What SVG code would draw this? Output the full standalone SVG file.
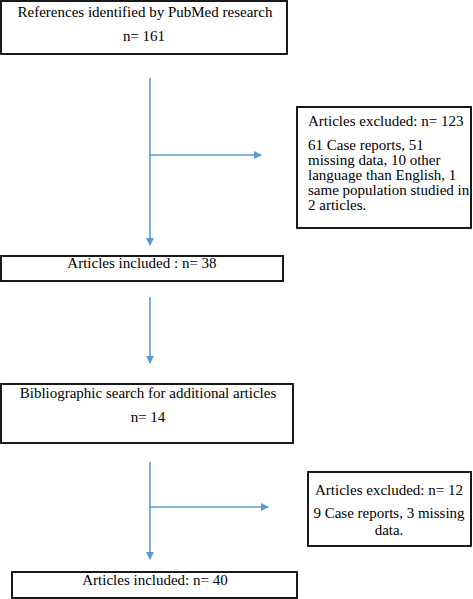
<svg xmlns="http://www.w3.org/2000/svg" width="473" height="599" viewBox="0 0 473 599">
<style>
.box{fill:#ffffff;stroke:#000000;stroke-width:1.8}
.t{font-family:"Liberation Serif","Times New Roman",serif;font-size:15px;fill:#000000}
.c{text-anchor:middle}
.conn{stroke:#5b9bd5;stroke-width:1.6;fill:none}
</style>
<defs>
<marker id="ah" markerWidth="8" markerHeight="8" refX="7" refY="4" orient="auto" markerUnits="userSpaceOnUse">
<path d="M0,0 L8,4 L0,8 Z" fill="#5b9bd5"/>
</marker>
</defs>
<rect width="473" height="599" fill="#ffffff"/>
<g id="connectors">
<line class="conn" x1="150" y1="78" x2="150" y2="245" marker-end="url(#ah)"/>
<line class="conn" x1="150" y1="155" x2="261" y2="155" marker-end="url(#ah)"/>
<line class="conn" x1="150" y1="297" x2="150" y2="363" marker-end="url(#ah)"/>
<line class="conn" x1="150" y1="462" x2="150" y2="559" marker-end="url(#ah)"/>
<line class="conn" x1="150" y1="507" x2="268" y2="507" marker-end="url(#ah)"/>
</g>
<g id="n1">
<rect class="box" x="1" y="1" width="286" height="53"/>
<text class="t c" x="145" y="17">References identified by PubMed research</text>
<text class="t c" x="144" y="41">n= 161</text>
</g>
<g id="n2">
<rect class="box" x="297" y="107" width="174" height="121"/>
<text class="t" x="308" y="126">Articles excluded: n= 123</text>
<text class="t" x="308" y="150">61 Case reports, 51</text>
<text class="t" x="308" y="165">missing data, 10 other</text>
<text class="t" x="308" y="180">language than English, 1</text>
<text class="t" x="308" y="195">same population studied in</text>
<text class="t" x="308" y="210">2 articles.</text>
</g>
<g id="n3">
<rect class="box" x="1" y="256" width="282" height="25"/>
<text class="t c" x="142" y="268">Articles included : n= 38</text>
</g>
<g id="n4">
<rect class="box" x="1" y="384" width="292" height="59"/>
<text class="t c" x="148" y="398">Bibliographic search for additional articles</text>
<text class="t c" x="148" y="422">n= 14</text>
</g>
<g id="n5">
<rect class="box" x="308" y="472" width="163" height="74"/>
<text class="t c" x="389" y="495">Articles excluded: n= 12</text>
<text class="t c" x="389" y="518">9 Case reports, 3 missing</text>
<text class="t c" x="389" y="535">data.</text>
</g>
<g id="n6">
<rect class="box" x="12" y="572" width="285" height="26"/>
<text class="t c" x="155" y="585">Articles included: n= 40</text>
</g>
</svg>
